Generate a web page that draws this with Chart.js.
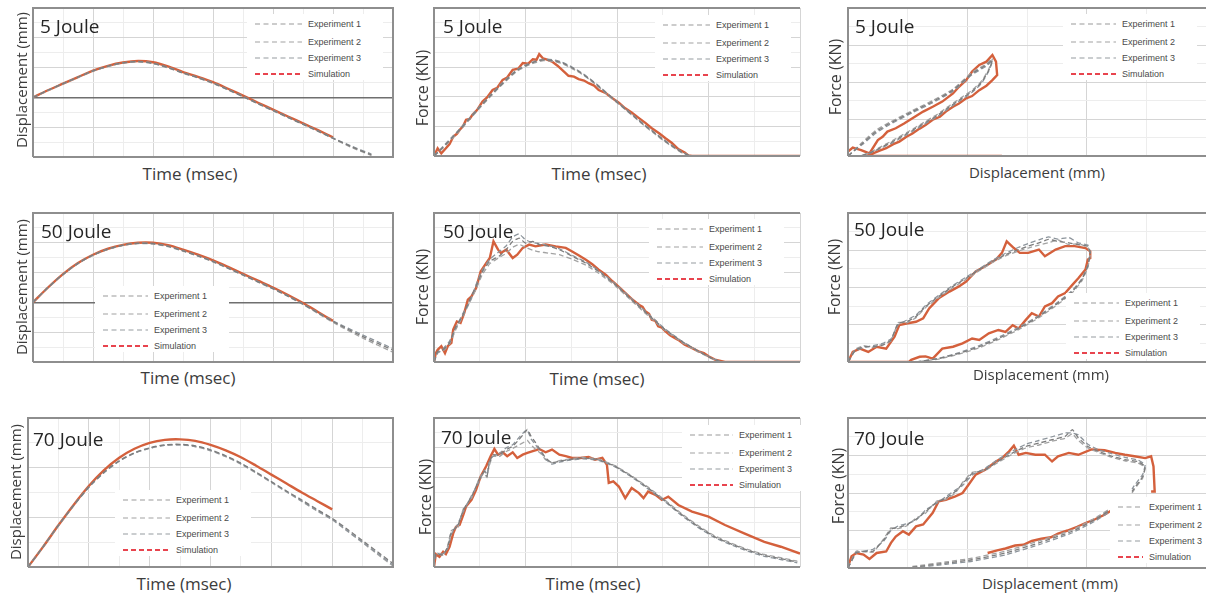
<!DOCTYPE html>
<html>
<head>
<meta charset="utf-8">
<script src="https://cdn.jsdelivr.net/npm/chart.js@4.4.1/dist/chart.umd.min.js"></script>
<style>
  html, body { margin: 0; padding: 0; background: #fff; }
  #stage { position: relative; width: 1206px; height: 594px; overflow: hidden; font-family: 'Open Sans', sans-serif; color: #3a3a3a; }
  canvas { position: absolute; }
  .ttl { position: absolute; font-size: 19px; line-height: 19px; color: #262626; white-space: nowrap; }
  .ax { position: absolute; white-space: nowrap; line-height: 1; transform: translate(-50%, -50%); color: #3c3c3c; }
  .ax.v { transform: translate(-50%, -50%) rotate(-90deg); }
  .lgbg { position: absolute; background: #fff; }
  .lgrow { position: absolute; height: 10px; display: flex; align-items: center; font-family: 'Liberation Sans', Arial, sans-serif; font-size: 9px; color: #4a4a4a; white-space: nowrap; }
  .lgrow svg { margin-right: 6px; }
</style>
</head>
<body>
<div id="stage"></div>
<script>
// ---- Data (axes have no numeric labels so units are grid divisions) ----
const legendLabels = ['Experiment 1', 'Experiment 2', 'Experiment 3', 'Simulation'];

// 5 Joule - displacement vs time
const tD5 = [0, .25, .5, .75, 1, 1.25, 1.5, 1.75, 2, 2.25, 2.5, 2.75, 3, 3.25, 3.5, 3.75, 4, 4.25, 4.5, 4.75, 5, 5.3, 5.64];
const d5Exp1 = [0, .24, .46, .68, .89, 1.05, 1.16, 1.2, 1.14, 1.0, .82, .66, .48, .26, .03, -.21, -.44, -.67, -.9, -1.13, -1.37, -1.65, -1.93];
const d5Exp2 = [0, .24, .46, .68, .89, 1.05, 1.16, 1.21, 1.15, 1.01, .83, .67, .49, .27, .04, -.2, -.43, -.66, -.89, -1.12, -1.36, -1.63, -1.9];
const d5Exp3 = [0, .23, .45, .67, .88, 1.04, 1.15, 1.19, 1.13, .99, .81, .65, .47, .25, .02, -.22, -.45, -.68, -.91, -1.14, -1.38, -1.67, -1.95];
const d5Sim = [0, .24, .46, .68, .9, 1.06, 1.17, 1.22, 1.18, 1.04, .85, .69, .51, .29, .06, -.18, -.41, -.64, -.87, -1.1, -1.34, null, null];

// 50 Joule - displacement vs time
const tD50 = [0, .25, .5, .75, 1, 1.25, 1.5, 1.75, 2, 2.25, 2.5, 2.75, 3, 3.25, 3.5, 3.75, 4, 4.25, 4.5, 4.75, 5, 5.5, 6];
const d50Exp1 = [0, .5, .94, 1.31, 1.59, 1.79, 1.92, 1.98, 1.97, 1.88, 1.73, 1.56, 1.37, 1.15, .92, .69, .46, .21, -.06, -.35, -.64, -1.15, -1.6];
const d50Exp2 = [0, .5, .94, 1.31, 1.59, 1.79, 1.92, 1.99, 1.98, 1.89, 1.74, 1.57, 1.38, 1.16, .93, .7, .47, .22, -.05, -.34, -.62, -1.1, -1.55];
const d50Exp3 = [0, .49, .93, 1.3, 1.58, 1.78, 1.91, 1.97, 1.96, 1.87, 1.72, 1.55, 1.36, 1.14, .91, .68, .45, .2, -.07, -.37, -.67, -1.2, -1.67];
const d50Sim = [0, .5, .95, 1.32, 1.6, 1.8, 1.93, 2.0, 2.0, 1.92, 1.77, 1.6, 1.41, 1.19, .96, .73, .5, .25, -.02, -.32, -.62, null, null];

// 70 Joule - displacement vs time
const tD70 = [0, .25, .5, .75, 1, 1.25, 1.5, 1.75, 2, 2.25, 2.5, 2.75, 3, 3.25, 3.5, 3.75, 4, 4.25, 4.5, 4.75, 5, 5.25, 5.5, 5.75, 6];
const d70Exp1 = [0, .41, .84, 1.24, 1.61, 1.91, 2.14, 2.3, 2.4, 2.46, 2.47, 2.44, 2.36, 2.24, 2.09, 1.91, 1.72, 1.53, 1.35, 1.16, .98, .76, .53, .3, .07];
const d70Exp2 = [0, .41, .84, 1.24, 1.61, 1.9, 2.13, 2.29, 2.39, 2.45, 2.46, 2.43, 2.35, 2.23, 2.08, 1.9, 1.71, 1.52, 1.33, 1.14, .96, .73, .5, .27, .04];
const d70Exp3 = [0, .41, .83, 1.23, 1.6, 1.9, 2.13, 2.29, 2.39, 2.45, 2.46, 2.42, 2.34, 2.22, 2.07, 1.89, 1.7, 1.51, 1.32, 1.13, .95, .72, .49, .25, .02];
const d70Sim = [0, .41, .84, 1.25, 1.63, 1.95, 2.2, 2.38, 2.5, 2.56, 2.57, 2.54, 2.46, 2.35, 2.21, 2.04, 1.86, 1.68, 1.5, 1.33, 1.16, null, null, null, null];

// 5 Joule - force vs time
const tF5Exp = [0, .05, .1, .2, .3, .4, .5, .6, .7, .8, .9, 1.0, 1.1, 1.2, 1.3, 1.4, 1.5, 1.6, 1.7, 1.8, 1.9, 2.0, 2.1, 2.2, 2.3, 2.4, 2.5, 2.6, 2.7, 2.8];
const f5Exp1 = [0, .15, .3, .62, .95, 1.3, 1.65, 1.98, 2.3, 2.6, 2.88, 3.05, 3.18, 3.25, 3.22, 3.15, 3.0, 2.82, 2.6, 2.35, 2.08, 1.82, 1.56, 1.3, 1.04, .8, .56, .34, .14, 0];
const f5Exp2 = [0, .17, .33, .65, .98, 1.33, 1.68, 2.01, 2.33, 2.63, 2.9, 3.08, 3.2, 3.27, 3.25, 3.17, 3.02, 2.84, 2.62, 2.37, 2.1, 1.84, 1.58, 1.32, 1.06, .82, .58, .36, .16, 0];
const f5Exp3 = [0, .13, .27, .59, .92, 1.27, 1.62, 1.95, 2.27, 2.57, 2.85, 3.02, 3.15, 3.22, 3.2, 3.12, 2.97, 2.8, 2.58, 2.33, 2.06, 1.8, 1.54, 1.28, 1.02, .78, .54, .32, .12, 0];
const tF5Sim = [0, .04, .08, .13, .17, .21, .25, .28, .32, .35, .39, .42, .47, .53, .58, .64, .69, .75, .8, .86, .92, .97, 1.03, 1.08, 1.12, 1.15, 1.19, 1.22, 1.29, 1.35, 1.4, 1.47, 1.53, 1.58, 1.64, 1.69, 1.75, 1.8, 1.88, 1.95, 2.02, 2.09, 2.16, 2.24, 2.31, 2.38, 2.46, 2.53, 2.6, 2.67, 2.74, 2.78, 2.82, 4];
const f5Sim = [0, .26, .09, .26, .4, .65, .75, .88, 1.02, 1.22, 1.25, 1.39, 1.55, 1.84, 1.98, 2.23, 2.3, 2.57, 2.65, 2.91, 2.95, 3.14, 3.12, 3.27, 3.25, 3.44, 3.3, 3.27, 3.19, 3.05, 2.91, 2.71, 2.68, 2.6, 2.55, 2.46, 2.38, 2.23, 2.12, 1.95, 1.8, 1.61, 1.47, 1.28, 1.12, .94, .77, .6, .44, .23, .12, .02, 0, 0];

// 50 Joule - force vs time
const tF50Exp = [0, .04, .1, .17, .24, .31, .39, .46, .53, .61, .71, .79, .86, .93, 1.0, 1.08, 1.15, 1.26, 1.37, 1.51, 1.66, 1.8, 1.98, 2.16, 2.34, 2.53, 2.71, 2.89, 3.03, 3.14];
const f50Exp1 = [0, .36, .41, .64, 1.2, 1.53, 2.09, 2.54, 3.04, 3.38, 3.55, 3.77, 4.05, 4.16, 3.99, 4.05, 3.94, 3.88, 3.77, 3.55, 3.32, 3.04, 2.6, 2.09, 1.59, 1.08, .69, .36, .13, 0];
const f50Exp2 = [0, .3, .45, .7, 1.15, 1.6, 2.0, 2.6, 3.1, 3.45, 3.7, 3.9, 4.2, 4.3, 4.1, 4.0, 3.98, 3.9, 3.8, 3.58, 3.35, 3.07, 2.63, 2.12, 1.62, 1.1, .7, .37, .14, 0];
const f50Exp3 = [0, .32, .38, .6, 1.1, 1.5, 2.0, 2.45, 2.95, 3.3, 3.5, 3.65, 3.85, 3.95, 3.85, 3.75, 3.7, 3.65, 3.6, 3.45, 3.25, 2.98, 2.56, 2.05, 1.55, 1.05, .66, .34, .12, 0];
const tF50Sim = [0, .02, .04, .08, .12, .15, .19, .21, .25, .29, .33, .37, .41, .46, .51, .57, .61, .65, .7, .73, .79, .86, .91, .97, 1.04, 1.11, 1.22, 1.33, 1.44, 1.51, 1.58, 1.66, 1.73, 1.8, 1.88, 1.95, 2.02, 2.09, 2.16, 2.24, 2.28, 2.31, 2.35, 2.38, 2.42, 2.45, 2.49, 2.53, 2.58, 2.63, 2.68, 2.74, 2.8, 2.89, 2.95, 3.0, 3.07, 3.18, 4];
const f50Sim = [0, .3, .41, .53, .3, .53, .64, 1.09, 1.36, 1.31, 1.64, 2.09, 2.2, 2.48, 3.04, 3.32, 3.49, 4.05, 3.77, 3.66, 3.77, 3.49, 3.6, 3.83, 3.94, 3.88, 3.94, 3.88, 3.83, 3.71, 3.58, 3.43, 3.28, 3.1, 2.92, 2.71, 2.52, 2.32, 2.12, 1.92, 1.85, 1.7, 1.62, 1.42, 1.38, 1.2, 1.15, 1.03, .9, .81, .72, .58, .5, .36, .3, .19, .08, 0, 0];

// 70 Joule - force vs time
const tF70Exp = [0, .02, .1, .15, .19, .26, .32, .41, .5, .55, .58, .6, .64, .71, .79, .86, .93, .99, 1.02, 1.06, 1.11, 1.17, 1.22, 1.29, 1.37, 1.47, 1.62, 1.8, 1.98, 2.16, 2.34, 2.53, 2.71, 2.89, 3.07, 3.25, 3.43, 3.61, 3.79, 3.97];
const f70Exp1 = [0, .45, .4, .68, 1.18, 1.38, 1.91, 2.36, 2.98, 3.21, 3.05, 3.4, 3.77, 3.75, 3.94, 4.05, 4.28, 4.5, 4.62, 4.39, 4.17, 3.89, 3.66, 3.49, 3.55, 3.6, 3.66, 3.6, 3.38, 3.04, 2.65, 2.2, 1.75, 1.35, 1.01, .77, .56, .39, .28, .17];
const f70Exp2 = [0, .4, .45, .62, 1.1, 1.45, 1.85, 2.4, 2.9, 3.25, 3.1, 3.5, 3.7, 3.8, 4.0, 4.1, 4.35, 4.55, 4.6, 4.3, 4.1, 3.85, 3.62, 3.45, 3.52, 3.58, 3.63, 3.58, 3.36, 3.02, 2.62, 2.18, 1.72, 1.32, .98, .74, .53, .36, .25, .14];
const f70Exp3 = [0, .48, .38, .72, 1.22, 1.32, 1.95, 2.3, 3.02, 3.15, 3.0, 3.35, 3.72, 3.7, 3.88, 3.98, 4.1, 4.2, 4.25, 4.1, 3.95, 3.8, 3.6, 3.5, 3.57, 3.62, 3.68, 3.62, 3.4, 3.06, 2.68, 2.23, 1.78, 1.38, 1.04, .8, .59, .42, .31, .2];
const tF70Sim = [0, .02, .06, .1, .13, .17, .21, .24, .28, .32, .35, .41, .46, .51, .57, .62, .66, .7, .75, .8, .86, .91, .97, 1.02, 1.08, 1.15, 1.22, 1.29, 1.37, 1.44, 1.51, 1.6, 1.69, 1.76, 1.84, 1.89, 1.91, 1.96, 2.02, 2.09, 2.16, 2.24, 2.29, 2.34, 2.42, 2.49, 2.56, 2.67, 2.82, 3.0, 3.18, 3.39, 3.61, 3.79, 4];
const f70Sim = [0, .43, .34, .51, .43, .68, 1.13, 1.35, 1.41, 1.75, 2.03, 2.25, 2.59, 3.04, 3.38, 3.72, 3.96, 3.77, 3.85, 3.72, 3.85, 3.66, 3.77, 3.83, 3.89, 3.96, 3.85, 3.94, 3.77, 3.72, 3.66, 3.66, 3.69, 3.6, 3.66, 3.43, 2.82, 2.87, 2.7, 2.31, 2.65, 2.48, 2.31, 2.53, 2.42, 2.25, 2.36, 2.08, 1.86, 1.69, 1.41, 1.13, .84, .68, .45];

// 5 Joule - force vs displacement
const xF5Exp = [0, .12, .235, .35, .54, .71, .88, 1.04, 1.16, 1.21, 1.18, 1.12, 1.04, .95, .85, .75, .62, .5, .38, .27, .18, .1];
const yF5Exp1 = [0, .34, .66, .88, 1.2, 1.47, 1.78, 2.23, 2.46, 2.6, 2.32, 2.0, 1.75, 1.55, 1.33, 1.1, .85, .62, .4, .22, .08, 0];
const yF5Exp2 = [0, .31, .62, .85, 1.17, 1.44, 1.75, 2.2, 2.43, 2.57, 2.3, 1.97, 1.72, 1.52, 1.3, 1.07, .82, .59, .37, .2, .07, 0];
const yF5Exp3 = [0, .37, .7, .91, 1.23, 1.5, 1.81, 2.26, 2.49, 2.64, 2.35, 2.03, 1.78, 1.58, 1.36, 1.13, .88, .65, .43, .24, .09, 0];
const xF5Sim = [0, .04, .11, .18, .25, .29, .33, .4, .47, .54, .63, .71, .79, .88, .93, .99, 1.04, 1.1, 1.16, 1.21, 1.24, 1.25, 1.21, 1.16, 1.1, 1.04, .99, .93, .88, .82, .77, .71, .65, .6, .54, .49, .43, .38, .32, .26, .21, .15, 1.29];
const yF5Sim = [.12, .23, .16, .07, .43, .52, .66, .75, .88, 1.02, 1.2, 1.33, 1.47, 1.69, 1.87, 2.05, 2.28, 2.46, 2.55, 2.73, 2.55, 2.19, 2.05, 1.9, 1.78, 1.62, 1.56, 1.42, 1.33, 1.2, 1.06, .98, .84, .74, .61, .52, .39, .32, .21, .14, .07, 0, 0];

// 50 Joule - force vs displacement
const xF50Exp = [0, .06, .13, .21, .29, .36, .42, .49, .57, .65, .76, .88, .99, 1.1, 1.21, 1.32, 1.43, 1.51, 1.6, 1.68, 1.76, 1.85, 1.93, 2.01, 2.03, 2.01, 1.96, 1.88, 1.76, 1.6, 1.43, 1.26, 1.1, .93, .76, .57];
const yF50Exp1 = [0, .32, .41, .41, .45, .59, 1.04, 1.08, 1.22, 1.49, 1.76, 2.03, 2.25, 2.48, 2.7, 2.88, 3.02, 3.11, 3.2, 3.29, 3.24, 3.2, 3.15, 3.11, 2.93, 2.57, 2.21, 1.89, 1.58, 1.22, .9, .63, .41, .23, .09, 0];
const yF50Exp2 = [0, .3, .38, .44, .5, .62, 1.0, 1.12, 1.26, 1.52, 1.79, 2.06, 2.28, 2.5, 2.73, 2.92, 3.08, 3.18, 3.28, 3.36, 3.3, 3.34, 3.2, 3.14, 2.95, 2.6, 2.24, 1.92, 1.61, 1.25, .93, .66, .44, .25, .1, 0];
const yF50Exp3 = [0, .34, .44, .39, .48, .56, 1.06, 1.05, 1.19, 1.46, 1.73, 2.0, 2.22, 2.45, 2.67, 2.85, 2.98, 3.06, 3.14, 3.2, 3.28, 3.15, 3.18, 3.08, 2.9, 2.54, 2.18, 1.86, 1.55, 1.19, .87, .6, .38, .21, .08, 0];
const xF50Sim = [0, .04, .1, .17, .24, .32, .39, .43, .5, .57, .63, .68, .76, .85, .93, .99, 1.07, 1.15, 1.24, 1.29, 1.33, 1.39, 1.44, 1.51, 1.6, 1.65, 1.74, 1.82, 1.9, 1.99, 2.03,
  2.03, 2.01, 1.99, 1.93, 1.88, 1.82, 1.76, 1.71, 1.65, 1.6, 1.54, 1.49, 1.43, 1.38, 1.32, 1.26, 1.18, 1.1, 1.04, .96, .88, .79, .71, .65, .6, .53, .51, 0];
const yF50Sim = [0, .27, .36, .27, .41, .36, .68, .99, 1.04, 1.08, 1.17, 1.44, 1.71, 1.89, 2.03, 2.16, 2.43, 2.57, 2.75, 2.93, 3.24, 3.06, 2.93, 2.93, 3.02, 2.84, 3.02, 3.11, 3.11, 3.06, 2.97,
  2.79, 2.75, 2.48, 2.25, 2.07, 1.85, 1.76, 1.58, 1.49, 1.22, 1.31, 1.13, .9, .99, .81, .86, .77, .59, .63, .5, .41, .36, .09, .15, .14, .06, 0, 0];

// 70 Joule - force vs displacement (null = break between loading and unloading branch)
const xF70Exp = [0, .07, .21, .3, .36, .42, .49, .57, .65, .74, .82, .9, .96, 1.04, 1.15, 1.26, 1.38, 1.49, 1.6, 1.71, 1.82, 1.88, 1.93, 2.01, 2.1, 2.21, 2.32, 2.43, 2.49, 2.47, 2.4, 2.38,
  2.38, .54, .82, 1.04, 1.32, 1.6, 1.88, 2.07, 2.24];
const yF70Exp1 = [0, .42, .45, .75, 1.04, 1.08, 1.15, 1.3, 1.5, 1.75, 1.86, 2.04, 2.25, 2.52, 2.62, 2.85, 3.07, 3.24, 3.33, 3.42, 3.51, 3.69, 3.47, 3.24, 3.11, 2.98, 2.89, 2.84, 2.71, 2.44, 2.13, 2.04,
  null, .02, .13, .22, .4, .67, .98, 1.29, 1.64];
const yF70Exp2 = [0, .4, .5, .72, 1.0, 1.12, 1.18, 1.27, 1.55, 1.72, 1.9, 2.08, 2.2, 2.48, 2.66, 2.9, 3.12, 3.3, 3.4, 3.5, 3.6, 3.6, 3.55, 3.3, 3.15, 3.05, 2.95, 2.88, 2.75, 2.5, 2.2, 2.1,
  null, 0, .1, .18, .35, .62, .94, 1.25, 1.6];
const yF70Exp3 = [0, .45, .42, .78, 1.07, 1.05, 1.12, 1.33, 1.46, 1.78, 1.83, 2.0, 2.28, 2.55, 2.6, 2.82, 3.04, 3.2, 3.28, 3.38, 3.46, 3.58, 3.4, 3.2, 3.08, 2.95, 2.86, 2.8, 2.68, 2.4, 2.1, 2.0,
  null, .04, .16, .26, .45, .72, 1.02, 1.33, 1.67];
const xF70Sim = [0, .03, .07, .13, .18, .24, .32, .36, .4, .46, .51, .57, .63, .71, .76, .82, .9, .96, 1.01, 1.07, 1.15, 1.24, 1.29, 1.35, 1.39, 1.43, 1.49, 1.57, 1.65, 1.71, 1.76, 1.85, 1.93, 2.04, 2.15, 2.24, 2.32, 2.4, 2.49, 2.54, 2.56, 2.57, 2.54,
  2.54, 1.17, 1.25, 1.32, 1.4, 1.47, 1.54, 1.62, 1.7, 1.76, 1.84, 1.92, 1.99, 2.07, 2.15, 2.24];
const yF70Sim = [.04, .31, .4, .36, .24, .4, .44, .67, .84, .98, .89, 1.11, 1.16, 1.47, 1.78, 1.82, 1.91, 2.0, 2.22, 2.49, 2.62, 2.84, 2.93, 3.11, 3.26, 3.02, 3.07, 3.02, 3.02, 2.84, 2.98, 3.07, 3.02, 3.16, 3.14, 3.07, 3.02, 2.98, 2.93, 2.98, 2.71, 2.04, 2.04,
  null, .4, .47, .52, .6, .62, .72, .78, .82, .92, 1.0, 1.1, 1.2, 1.3, 1.42, 1.6];

// ---- Styles ----
const SIM_COLOR = '#d4603c';
const EXP_COLORS = ['#7d7d7d', '#8c949b', '#a3a3a3'];
const LEG_COLORS = ['#9a9a9a', '#a2a2a2', '#959ba0', '#e8444e'];
const ROW_OFFSETS = [0, 18, 34, 50];

function pts(xs, ys) {
  return xs.map((x, i) => ({ x: x, y: ys[i] }));
}

const panels = [
  { box: [33, 8, 360, 149], xr: [0, 6], yr: [-2, 3], zero: true, right: true, tension: [0.3, 0.3],
    title: '5 Joule', titleAt: [40, 17], xTitle: 'Time (msec)', xAt: [190, 173], xSize: 17,
    yTitle: 'Displacement (mm)', yAt: [21, 80], ySize: 15, legend: [255, 47, 24],
    exp: [pts(tD5, d5Exp1), pts(tD5, d5Exp2), pts(tD5, d5Exp3)], sim: pts(tD5, d5Sim) },
  { box: [434, 8, 366, 148], xr: [0, 4], yr: [0, 5], zero: false, right: false, tension: [0.2, 0],
    title: '5 Joule', titleAt: [443, 17], xTitle: 'Time (msec)', xAt: [599, 173], xSize: 17,
    yTitle: 'Force (KN)', yAt: [422, 88], ySize: 16, legend: [663, 47, 25],
    exp: [pts(tF5Exp, f5Exp1), pts(tF5Exp, f5Exp2), pts(tF5Exp, f5Exp3)], sim: pts(tF5Sim, f5Sim) },
  { box: [848, 8, 358, 148], xr: [0, 3], yr: [0, 4], zero: false, right: false, tension: [0.2, 0],
    title: '5 Joule', titleAt: [855, 17], xTitle: 'Displacement (mm)', xAt: [1037, 172], xSize: 15,
    yTitle: 'Force (KN)', yAt: [835, 77], ySize: 16, legend: [1071, 45, 24],
    exp: [pts(xF5Exp, yF5Exp1), pts(xF5Exp, yF5Exp2), pts(xF5Exp, yF5Exp3)], sim: pts(xF5Sim, yF5Sim) },

  { box: [33, 213, 360, 149], xr: [0, 6], yr: [-2, 3], zero: true, right: true, tension: [0.3, 0.3],
    title: '50 Joule', titleAt: [41, 222], xTitle: 'Time (msec)', xAt: [188, 377], xSize: 17,
    yTitle: 'Displacement (mm)', yAt: [21, 287], ySize: 15, legend: [103, 45, 296],
    exp: [pts(tD50, d50Exp1), pts(tD50, d50Exp2), pts(tD50, d50Exp3)], sim: pts(tD50, d50Sim) },
  { box: [434, 213, 366, 149], xr: [0, 4], yr: [0, 5], zero: false, right: false, tension: [0.1, 0],
    title: '50 Joule', titleAt: [443, 222], xTitle: 'Time (msec)', xAt: [597, 378], xSize: 17,
    yTitle: 'Force (KN)', yAt: [422, 287], ySize: 16, legend: [657, 46, 229],
    exp: [pts(tF50Exp, f50Exp1), pts(tF50Exp, f50Exp2), pts(tF50Exp, f50Exp3)], sim: pts(tF50Sim, f50Sim) },
  { box: [848, 213, 358, 149], xr: [0, 3], yr: [0, 4], zero: false, right: false, tension: [0.1, 0],
    title: '50 Joule', titleAt: [854, 220], xTitle: 'Displacement (mm)', xAt: [1041, 374], xSize: 15,
    yTitle: 'Force (KN)', yAt: [834, 277], ySize: 16, legend: [1074, 45, 303],
    exp: [pts(xF50Exp, yF50Exp1), pts(xF50Exp, yF50Exp2), pts(xF50Exp, yF50Exp3)], sim: pts(xF50Sim, yF50Sim) },

  { box: [28, 418, 365, 149], xr: [0, 6], yr: [0, 3], zero: false, right: true, tension: [0.3, 0.3],
    title: '70 Joule', titleAt: [33, 430], xTitle: 'Time (msec)', xAt: [184, 583], xSize: 17,
    yTitle: 'Displacement (mm)', yAt: [15, 492], ySize: 15, legend: [123, 47, 500],
    exp: [pts(tD70, d70Exp1), pts(tD70, d70Exp2), pts(tD70, d70Exp3)], sim: pts(tD70, d70Sim) },
  { box: [434, 418, 366, 149], xr: [0, 4], yr: [0, 5], zero: false, right: false, tension: [0.1, 0],
    title: '70 Joule', titleAt: [441, 428], xTitle: 'Time (msec)', xAt: [593, 583], xSize: 17,
    yTitle: 'Force (KN)', yAt: [425, 497], ySize: 16, legend: [690, 43, 435],
    exp: [pts(tF70Exp, f70Exp1), pts(tF70Exp, f70Exp2), pts(tF70Exp, f70Exp3)], sim: pts(tF70Sim, f70Sim) },
  { box: [848, 418, 358, 150], xr: [0, 3], yr: [0, 4], zero: false, right: false, tension: [0.1, 0],
    title: '70 Joule', titleAt: [854, 429], xTitle: 'Displacement (mm)', xAt: [1050, 583], xSize: 15,
    yTitle: 'Force (KN)', yAt: [838, 486], ySize: 16, legend: [1118, 25, 507],
    exp: [pts(xF70Exp, yF70Exp1), pts(xF70Exp, yF70Exp2), pts(xF70Exp, yF70Exp3)], sim: pts(xF70Sim, yF70Sim) }
];

// frame round the plot area (right side is cut off in the middle and right columns)
const boxPlugin = {
  id: 'box',
  afterDraw(chart, args, opts) {
    const a = chart.chartArea;
    const ctx = chart.ctx;
    ctx.save();
    ctx.strokeStyle = '#8e8e8e';
    ctx.lineWidth = 2;
    ctx.beginPath();
    ctx.moveTo(a.left, a.bottom);
    ctx.lineTo(a.left, a.top);
    ctx.lineTo(a.right, a.top);
    if (opts.right) {
      ctx.lineTo(a.right, a.bottom);
    } else {
      ctx.moveTo(a.right, a.bottom);
    }
    ctx.lineTo(a.left, a.bottom);
    ctx.stroke();
    ctx.restore();
  }
};

function isMajor(v) {
  return Math.abs(v - Math.round(v)) < 1e-6;
}

function axis(range, zero) {
  return {
    type: 'linear',
    min: range[0],
    max: range[1],
    ticks: { display: false, stepSize: 0.5 },
    grid: {
      drawTicks: false,
      color: c => {
        const v = c.tick ? c.tick.value : 0.5;
        if (zero && Math.abs(v) < 1e-6) return '#6f6f6f';
        return isMajor(v) ? '#d5d5d5' : '#ededed';
      },
      lineWidth: c => (zero && c.tick && Math.abs(c.tick.value) < 1e-6) ? 1.6 : 1
    },
    border: { display: false }
  };
}

const stage = document.getElementById('stage');

function addText(cls, text, x, y, size) {
  const d = document.createElement('div');
  d.className = cls;
  d.textContent = text;
  d.style.left = x + 'px';
  d.style.top = y + 'px';
  if (size) d.style.fontSize = size + 'px';
  stage.appendChild(d);
  return d;
}

function addLegend(lineX, lineW, y0) {
  const bg = document.createElement('div');
  bg.className = 'lgbg';
  bg.style.left = (lineX - 8) + 'px';
  bg.style.top = (y0 - 10) + 'px';
  bg.style.width = (lineW + 89) + 'px';
  bg.style.height = '66px';
  stage.appendChild(bg);
  legendLabels.forEach((label, i) => {
    const row = document.createElement('div');
    row.className = 'lgrow';
    row.style.left = lineX + 'px';
    row.style.top = (y0 + ROW_OFFSETS[i] - 5) + 'px';
    const sim = i === 3;
    row.innerHTML = '<svg width="' + lineW + '" height="6"><line x1="0" y1="3" x2="' + lineW + '" y2="3" stroke="' +
      LEG_COLORS[i] + '" stroke-width="' + (sim ? 1.8 : 1.2) + '" stroke-dasharray="' + (sim ? '5 3' : '5 3.5') + '"/></svg>';
    const s = document.createElement('span');
    s.textContent = label;
    row.appendChild(s);
    stage.appendChild(row);
  });
}

panels.forEach(p => {
  const [L, T, W, H] = p.box;
  const cv = document.createElement('canvas');
  cv.width = W + 4;
  cv.height = H + 4;
  cv.style.left = (L - 2) + 'px';
  cv.style.top = (T - 2) + 'px';
  stage.appendChild(cv);

  // simulation drawn first so it sits under the thin dashed experiment lines
  const datasets = [];
  p.exp.forEach((d, i) => {
    datasets.push({
      label: legendLabels[i], data: d, borderColor: EXP_COLORS[i], borderWidth: 1.3,
      borderDash: [5, 3], pointRadius: 0, tension: p.tension[0], order: 1
    });
  });
  datasets.push({
    label: legendLabels[3], data: p.sim, borderColor: SIM_COLOR, borderWidth: 2.4,
    pointRadius: 0, tension: p.tension[1], order: 2
  });

  new Chart(cv, {
    type: 'line',
    data: { datasets: datasets },
    options: {
      responsive: false,
      animation: false,
      events: [],
      layout: { padding: 2 },
      plugins: { legend: { display: false }, tooltip: { enabled: false }, box: { right: p.right } },
      scales: { x: axis(p.xr, false), y: axis(p.yr, p.zero) }
    },
    plugins: [boxPlugin]
  });

  addLegend(p.legend[0], p.legend[1], p.legend[2]);
  addText('ttl', p.title, p.titleAt[0], p.titleAt[1]);
  addText('ax', p.xTitle, p.xAt[0], p.xAt[1], p.xSize);
  addText('ax v', p.yTitle, p.yAt[0], p.yAt[1], p.ySize);
});
</script>
</body>
</html>
